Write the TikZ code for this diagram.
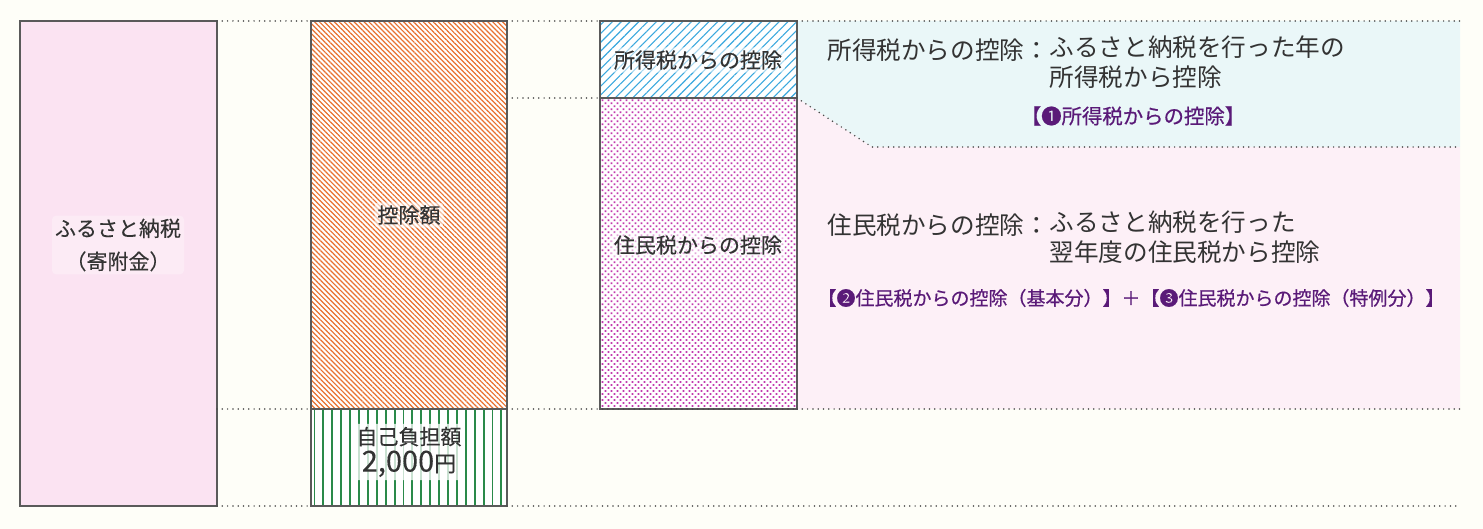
\documentclass[tikz,border=0pt]{standalone}
\usepackage{fontspec}
\setmainfont{Noto Sans CJK JP}
\usetikzlibrary{patterns.meta}

\definecolor{paper}{HTML}{FEFEF8}
\definecolor{frame}{HTML}{5A5A5A}
\definecolor{dotline}{HTML}{4A4A4A}
\definecolor{furupink}{HTML}{FBE3F2}
\definecolor{hatchorange}{HTML}{E8702F}
\definecolor{hatchblue}{HTML}{3AA8DE}
\definecolor{hatchgreen}{HTML}{2A8A4A}
\definecolor{dotmagenta}{HTML}{C23AAE}
\definecolor{areablue}{HTML}{EAF7F8}
\definecolor{areapink}{HTML}{FDF0F7}
\definecolor{txt}{HTML}{333333}
\definecolor{reftxt}{HTML}{5A1A78}

\tikzset{
  box/.style={draw=frame, line width=1pt},
  guide/.style={draw=dotline, line width=0.85pt, line cap=round, dash pattern=on 0pt off 2.65pt},
  boxlabel/.style={text=txt, font=\fontsize{10.5}{16.5}\selectfont\addfontfeature{FakeBold=0.25}, align=center,
    fill=white, fill opacity=0.55, text opacity=1, rounded corners=2pt, inner sep=1.5pt},
  explain/.style={text=txt, font=\fontsize{12.3}{15}\selectfont, align=left, inner sep=0pt},
  reflabel/.style={text=reftxt, inner sep=0pt},
}

\begin{document}
\begin{tikzpicture}[x=0.5pt,y=-0.5pt]
  % Paper
  \fill[paper] (0,0) rectangle (1483,529);
  \useasboundingbox (0,0) rectangle (1483,529);
  % Corner points
  \coordinate (fz-nw) at (20,21);
  \coordinate (fz-se) at (217,506);
  \coordinate (kj-nw) at (311,21);
  \coordinate (kj-se) at (507,409);
  \coordinate (jf-nw) at (311,409);
  \coordinate (jf-se) at (507,506);
  \coordinate (st-nw) at (600,21);
  \coordinate (st-se) at (797,98);
  \coordinate (jm-nw) at (600,98);
  \coordinate (jm-se) at (797,409);
  \coordinate (cut) at (872,147);
  \coordinate (end-t) at (1460,21);
  \coordinate (end-k) at (1460,147);
  \coordinate (end-s) at (1460,409);
  \coordinate (end-u) at (1460,506);
  % Explanation areas
  \fill[areablue] (797,21) -- (end-t) -- (end-k) -- (cut) -- (st-se) -- cycle;
  \fill[areapink] (st-se) -- (cut) -- (end-k) -- (end-s) -- (jm-se |- end-s) -- cycle;
  % Boxes
  \draw[box, fill=furupink] (fz-nw) rectangle (fz-se);
  \fill[white] (kj-nw) rectangle (kj-se);
  \fill[pattern={Lines[angle=-45,distance=1.75pt,line width=0.6pt]}, pattern color=hatchorange] (kj-nw) rectangle (kj-se);
  \fill[white] (jf-nw) rectangle (jf-se);
  \fill[pattern={Lines[angle=90,distance=4.45pt,line width=0.95pt,xshift=1.5pt]}, pattern color=hatchgreen] (jf-nw) rectangle (jf-se);
  \draw[box] (kj-nw) rectangle (jf-se);
  \draw[box] (jf-nw) -- (jf-nw -| jf-se);
  \fill[white] (st-nw) rectangle (st-se);
  \fill[pattern={Lines[angle=45,distance=3.1pt,line width=0.55pt]}, pattern color=hatchblue] (st-nw) rectangle (st-se);
  \fill[white] (jm-nw) rectangle (jm-se);
  \fill[pattern={Dots[angle=45,distance=2.12pt,radius=0.62pt]}, pattern color=dotmagenta] (jm-nw) rectangle (jm-se);
  \draw[box] (st-nw) rectangle (jm-se);
  \draw[box] (jm-nw) -- (st-se);
  % Guide lines
  \draw[guide] (fz-nw -| fz-se) -- (kj-nw);
  \draw[guide] (kj-nw -| kj-se) -- (st-nw);
  \draw[guide] (st-nw -| st-se) -- (end-t);
  \draw[guide] (jm-nw -| kj-se) -- (jm-nw);
  \draw[guide] (st-se) -- (cut) -- (end-k);
  \draw[guide] (jf-nw -| fz-se) -- (jf-nw);
  \draw[guide] (kj-se) -- (jm-se |- kj-se);
  \draw[guide] (jm-se) -- (end-s);
  \draw[guide] (fz-se) -- (jf-nw |- fz-se);
  \draw[guide] (jf-se) -- (end-u);
  % Box labels
  \node[boxlabel, fill opacity=0.3] (fz) at (118,245) {ふるさと納税\\（寄附金）};
  \node[boxlabel] (kj) at (409,215) {控除額};
  \node[boxlabel, fill opacity=0.75] (jf) at (409,452) {自己負担額\\[-3pt]{\fontsize{14.5}{14}\selectfont 2,000\fontsize{11}{11}\selectfont 円}};
  \node[boxlabel] (st) at (698,60) {所得税からの控除};
  \node[boxlabel] (jm) at (698,245) {住民税からの控除};
  % Explanations
  \node[explain, anchor=west] (st-head) at (827,50) {所得税からの控除：};
  \node[explain, anchor=north west] (st-body) at ([yshift=7.5pt]st-head.east) {ふるさと納税を行った年の\\所得税から控除};
  \node[reflabel, font=\fontsize{10.2}{12}\selectfont\addfontfeature{FakeBold=0.6}] (st-ref) at (1133,116) {【❶所得税からの控除】};
  \node[explain, anchor=west] (jm-head) at (827,225) {住民税からの控除：};
  \node[explain, anchor=north west] (jm-body) at ([yshift=7.5pt]jm-head.east) {ふるさと納税を行った\\翌年度の住民税から控除};
  \node[reflabel, font=\fontsize{9.5}{12}\selectfont\addfontfeature{FakeBold=0.6}] (jm-ref) at (1131,298) {【❷住民税からの控除（基本分）】＋【❸住民税からの控除（特例分）】};
\end{tikzpicture}
\end{document}
